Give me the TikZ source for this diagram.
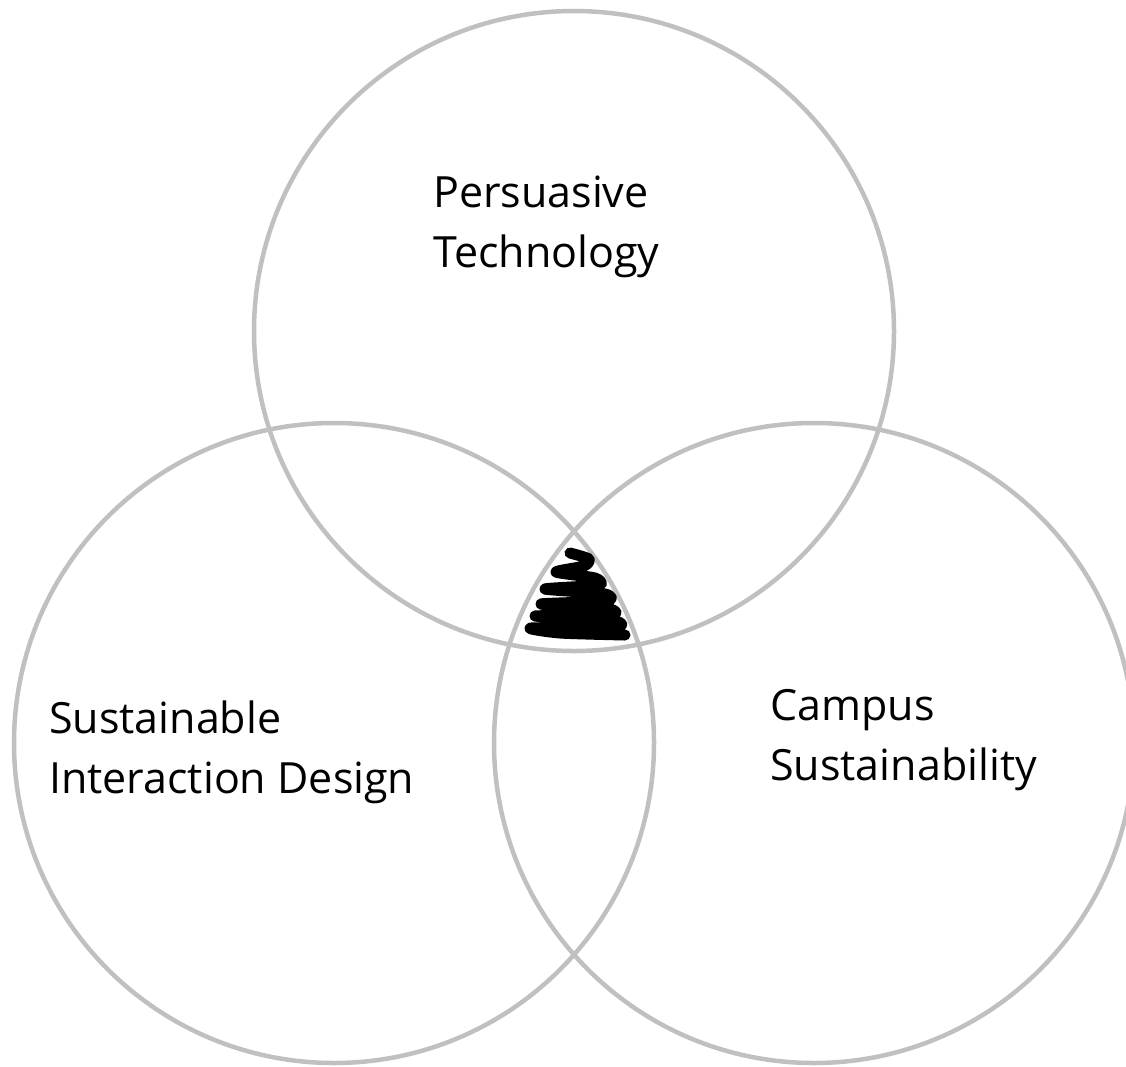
\documentclass[tikz,border=0pt]{standalone}
\usepackage{fontspec}
\setmainfont{Open Sans}
\usepackage{tikz}
\usetikzlibrary{positioning}
\definecolor{ringgray}{RGB}{192, 192, 192}

\begin{document}
\begin{tikzpicture}[
    x=1pt, y=-1pt,
    ring/.style={draw=ringgray, line width=4.5pt, circle, minimum size=640pt, inner sep=0pt},
    label/.style={font=\fontsize{43}{60}\selectfont, align=left, anchor=north west, inner sep=0pt},
    scribble/.style={line width=11pt, line cap=round, line join=round, black}
]
    \useasboundingbox (0,0) rectangle (1126,1066);

    % Circles
    \node[ring] (persuasive) at (574,331) {};
    \node[ring] (interaction) at (334,743) {};
    \node[ring] (campus) at (814,743) {};

    % Labels
    \node[label] (persuasivetext) at (433,176) {Persuasive\\Technology};
    \node[label] (interactiontext) at (49,701) {Sustainable\\Interaction Design};
    \node[label] (campustext) at (770,689) {Campus\\Sustainability};

    % Scribble in the middle
    \draw[scribble] plot[smooth, tension=0.4] coordinates {
        (570,553) (589,559) (584,566) (556,572) (595,578) (599,585)
        (545,589) (605,594) (607,601) (541,604) (609,609) (611,615)
        (535,616) (614,621) (616,627) (531,628) (560,633) (625,635)};
\end{tikzpicture}
\end{document}
